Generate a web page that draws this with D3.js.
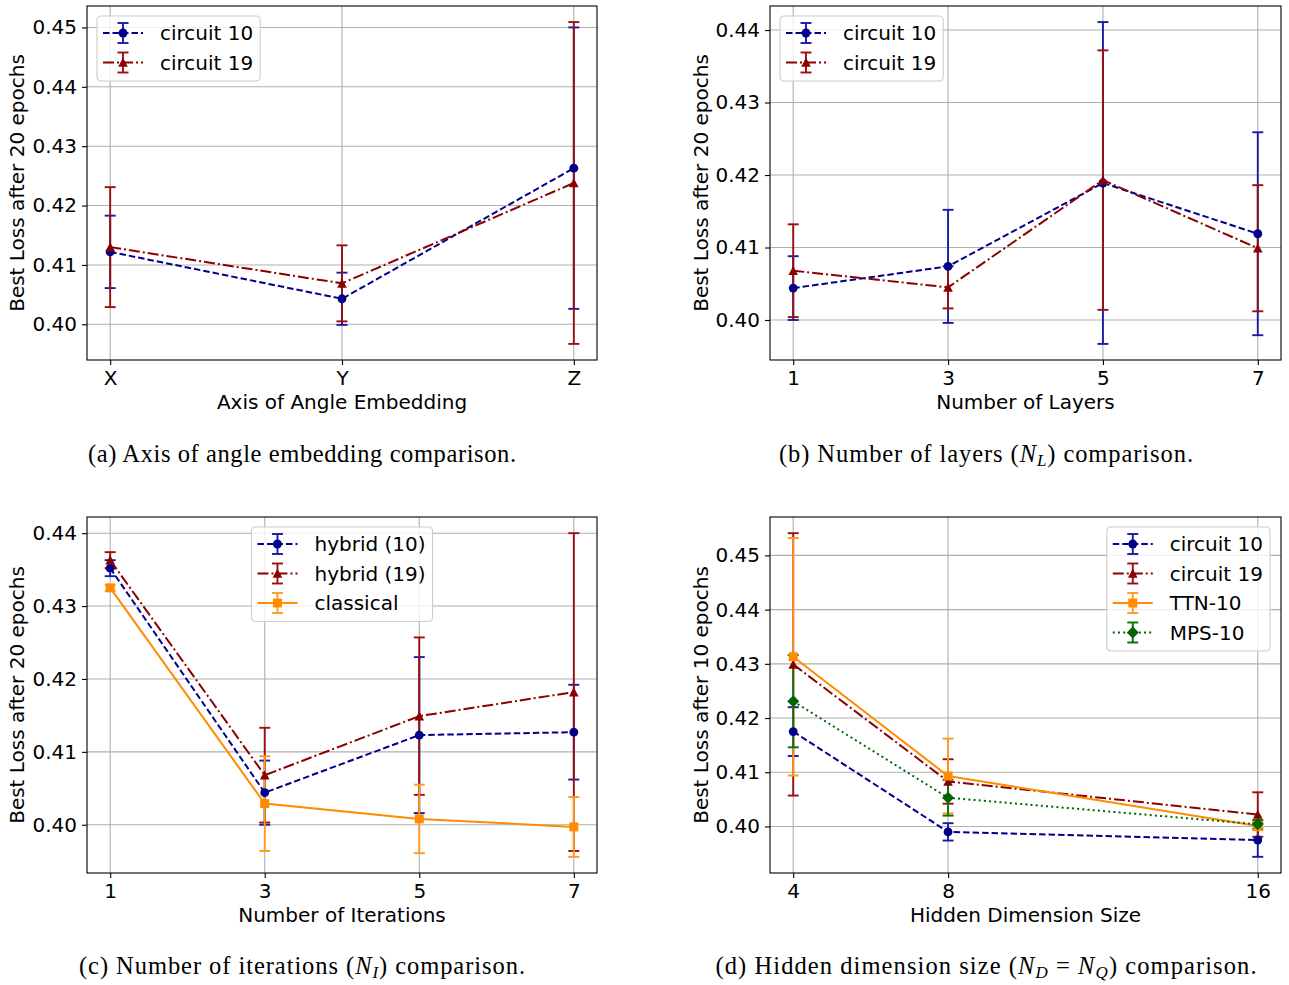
<!DOCTYPE html>
<html>
<head>
<meta charset="utf-8">
<script src="https://cdn.jsdelivr.net/npm/d3@7"></script>
<style>
  body{ margin:0; background:#fff; }
  svg text{ font-family:"DejaVu Sans", sans-serif; fill:#000; }
  svg text.cap{ font-family:"Liberation Serif", serif; }
</style>
</head>
<body>
<svg id="fig" width="1289" height="985"></svg>
<script>
/* ---- valores ---- */
const embedAxes   = ["X", "Y", "Z"];
const embedC10    = [0.4122, 0.4043, 0.4263];
const embedC10Err = [0.0061, 0.0044, 0.0237];
const embedC19    = [0.4130, 0.4069, 0.4238];
const embedC19Err = [0.0101, 0.0064, 0.0271];

const layers      = [1, 3, 5, 7];
const layerC10    = [0.4044, 0.4074, 0.4189, 0.4119];
const layerC10Err = [0.0044, 0.0078, 0.0222, 0.0140];
const layerC19    = [0.4068, 0.4045, 0.4193, 0.4099];
const layerC19Err = [0.0064, 0.0029, 0.0179, 0.0087];

const iters       = [1, 3, 5, 7];
const iterH10     = [0.4352, 0.4044, 0.4123, 0.4127];
const iterH10Err  = [0.0011, 0.0044, 0.0107, 0.0065];
const iterH19     = [0.4363, 0.4068, 0.4149, 0.4182];
const iterH19Err  = [0.0011, 0.0065, 0.0108, 0.0218];
const iterCls     = [0.4325, 0.4029, 0.4008, 0.3997];
const iterClsErr  = [0.0004, 0.0065, 0.0047, 0.0041];

const dims        = [4, 8, 16];
const dimC10      = [0.4175, 0.3990, 0.3975];
const dimC10Err   = [0.0045, 0.0016, 0.0031];
const dimC19      = [0.4299, 0.4083, 0.4022];
const dimC19Err   = [0.0242, 0.0041, 0.0041];
const dimTTN      = [0.4313, 0.4093, 0.4001];
const dimTTNErr   = [0.0219, 0.0069, 0.0008];
const dimMPS      = [0.4231, 0.4053, 0.4004];
const dimMPSErr   = [0.0085, 0.0033, 0.0008];

const ticks045 = [0.40, 0.41, 0.42, 0.43, 0.44, 0.45];
const ticks044 = [0.40, 0.41, 0.42, 0.43, 0.44];

/* estilos de serie (color, trazo, marcador) */
const ST = {
  blue:   { color:"#00008b", bar:"#1a1aa6", dash:"6.5,3",    marker:"circle" },
  red:    { color:"#8b0000", bar:"#9a0f0f", dash:"11,3,2,3", marker:"triangle" },
  orange: { color:"#ff8c00", bar:"#ff9a1f", dash:null,       marker:"square" },
  green:  { color:"#006400", bar:"#0b6e0b", dash:"2,3.2",    marker:"diamond" }
};

const svg = d3.select("#fig");
const FS = 20;

function markerPath(type){
  if(type === "triangle") return "M0,-4.8L4.8,4.3L-4.8,4.3Z";
  if(type === "square")   return "M-4.5,-4.5H4.5V4.5H-4.5Z";
  if(type === "diamond")  return "M0,-6L6,0L0,6L-6,0Z";
  return d3.symbol(d3.symbolCircle, 62)();
}

function drawPanel(p){
  const g = svg.append("g");
  const W = p.right - p.left, H = p.bottom - p.top;

  // eje y: rango de datos +-error con 5% de margen (como matplotlib)
  const lo = d3.min(p.series, s => d3.min(s.y, (v,i) => v - s.err[i]));
  const hi = d3.max(p.series, s => d3.max(s.y, (v,i) => v + s.err[i]));
  const pad = (hi - lo) * 0.05;
  const y = d3.scaleLinear().domain([lo - pad, hi + pad]).range([p.bottom, p.top]);

  let x, xpos;
  if(p.cats){
    x = d3.scalePoint().domain(p.cats).range([p.left, p.right]).padding(0.1);
    xpos = (v, i) => x(p.cats[i]);
  } else {
    const [a, b] = d3.extent(p.xvals);
    const m = (b - a) * 0.05;
    x = d3.scaleLinear().domain([a - m, b + m]).range([p.left, p.right]);
    xpos = (v, i) => x(p.xvals[i]);
  }
  const xTickVals = p.cats ? p.cats : p.xvals;

  // rejilla
  g.append("g").selectAll("line").data(p.yticks).join("line")
    .attr("x1", p.left).attr("x2", p.right)
    .attr("y1", d => y(d)).attr("y2", d => y(d))
    .attr("stroke", "#b0b0b0").attr("stroke-width", 1.1);
  g.append("g").selectAll("line").data(xTickVals).join("line")
    .attr("y1", p.top).attr("y2", p.bottom)
    .attr("x1", d => x(d)).attr("x2", d => x(d))
    .attr("stroke", "#b0b0b0").attr("stroke-width", 1.1);

  // ejes
  const ax = g.append("g").attr("transform", `translate(0,${p.bottom})`)
    .call(d3.axisBottom(x).tickValues(xTickVals).tickSize(5).tickPadding(6).tickFormat(d => d));
  const ay = g.append("g").attr("transform", `translate(${p.left},0)`)
    .call(d3.axisLeft(y).tickValues(p.yticks).tickSize(5).tickPadding(5).tickFormat(d3.format(".2f")));
  [ax, ay].forEach(a => {
    a.select(".domain").remove();
    a.selectAll("text").attr("font-size", FS).attr("font-family", "DejaVu Sans");
    a.selectAll("line").attr("stroke", "#000").attr("stroke-width", 1.1);
  });

  // barras de error (todas debajo de las líneas)
  p.series.forEach(s => {
    const st = ST[s.style];
    const eb = g.append("g").attr("stroke", st.bar).attr("stroke-width", 1.9);
    s.y.forEach((v, i) => {
      const cx = xpos(v, i), t = y(v + s.err[i]), b = y(v - s.err[i]);
      eb.append("line").attr("x1", cx).attr("x2", cx).attr("y1", t).attr("y2", b);
      eb.append("line").attr("x1", cx - 5.5).attr("x2", cx + 5.5).attr("y1", t).attr("y2", t);
      eb.append("line").attr("x1", cx - 5.5).attr("x2", cx + 5.5).attr("y1", b).attr("y2", b);
    });
  });

  // líneas y marcadores
  p.series.forEach(s => {
    const st = ST[s.style];
    const line = d3.line().x((d, i) => xpos(d, i)).y(d => y(d));
    g.append("path").attr("d", line(s.y)).attr("fill", "none")
      .attr("stroke", st.color).attr("stroke-width", 2)
      .attr("stroke-dasharray", st.dash);
    g.append("g").selectAll("path").data(s.y).join("path")
      .attr("transform", (d, i) => `translate(${xpos(d, i)},${y(d)})`)
      .attr("d", markerPath(st.marker)).attr("fill", st.color);
  });

  // marco
  g.append("rect").attr("x", p.left).attr("y", p.top).attr("width", W).attr("height", H)
    .attr("fill", "none").attr("stroke", "#000").attr("stroke-width", 1.1);

  // títulos de eje
  g.append("text").attr("x", (p.left + p.right) / 2).attr("y", p.bottom + 49)
    .attr("text-anchor", "middle").attr("font-size", FS).text(p.xlabel);
  g.append("text").attr("transform", `translate(${p.ylabX},${(p.top + p.bottom) / 2}) rotate(-90)`)
    .attr("text-anchor", "middle").attr("font-size", FS).text(p.ylabel);

  // leyenda
  const lg = g.append("g");
  const box = lg.append("rect").attr("rx", 4).attr("fill", "#fff").attr("fill-opacity", 0.8)
    .attr("stroke", "#cccccc").attr("stroke-width", 1.1);
  let maxW = 0;
  p.series.forEach((s, k) => {
    const st = ST[s.style];
    const ry = 17 + k * 29.5;
    const row = lg.append("g").attr("transform", `translate(0,${ry})`);
    row.append("line").attr("x1", 6).attr("x2", 46).attr("stroke", st.color)
      .attr("stroke-width", 2).attr("stroke-dasharray", st.dash);
    row.append("line").attr("x1", 26).attr("x2", 26).attr("y1", -10).attr("y2", 10)
      .attr("stroke", st.bar).attr("stroke-width", 1.9);
    [-10, 10].forEach(e => row.append("line").attr("x1", 20.5).attr("x2", 31.5)
      .attr("y1", e).attr("y2", e).attr("stroke", st.bar).attr("stroke-width", 1.9));
    row.append("path").attr("transform", "translate(26,0)")
      .attr("d", markerPath(st.marker)).attr("fill", st.color);
    const t = row.append("text").attr("x", 63).attr("dy", "0.35em").attr("font-size", FS).text(s.name);
    maxW = Math.max(maxW, t.node().getComputedTextLength());
  });
  const bw = 63 + maxW + 7, bh = p.series.length * 29.5 + 6;
  box.attr("width", bw).attr("height", bh);
  let lx;
  if(p.legend === "left") lx = p.left + 10;
  else if(p.legend === "center") lx = (p.left + p.right) / 2 - bw / 2;
  else lx = p.right - 11 - bw;
  lg.attr("transform", `translate(${lx},${p.top + 10})`);

  // pie de figura (ancho ajustado al del original)
  const cap = svg.append("text").attr("class", "cap").attr("x", p.capX).attr("y", p.capY)
    .attr("text-anchor", "middle").attr("font-size", 24.5)
    .attr("textLength", p.capW).attr("lengthAdjust", "spacing");
  p.caption.forEach(part => {
    const ts = cap.append("tspan").text(part.t);
    if(part.i) ts.attr("font-style", "italic");
    if(part.sub) ts.attr("font-size", 17).attr("dy", 4);
    if(part.up) ts.attr("dy", -4);
  });
}

drawPanel({
  left:87, right:597, top:6, bottom:360, ylabX:24, capX:302, capY:462, capW:428,
  cats: embedAxes, yticks: ticks045, legend:"left",
  xlabel:"Axis of Angle Embedding", ylabel:"Best Loss after 20 epochs",
  series:[
    { name:"circuit 10", style:"blue", y:embedC10, err:embedC10Err },
    { name:"circuit 19", style:"red",  y:embedC19, err:embedC19Err }
  ],
  caption:[{t:"(a) Axis of angle embedding comparison."}]
});

drawPanel({
  left:770, right:1281, top:6, bottom:360, ylabX:708, capX:986, capY:462, capW:414,
  xvals: layers, yticks: ticks044, legend:"left",
  xlabel:"Number of Layers", ylabel:"Best Loss after 20 epochs",
  series:[
    { name:"circuit 10", style:"blue", y:layerC10, err:layerC10Err },
    { name:"circuit 19", style:"red",  y:layerC19, err:layerC19Err }
  ],
  caption:[{t:"(b) Number of layers ("}, {t:"N", i:true}, {t:"L", i:true, sub:true},
           {t:") comparison.", up:true}]
});

drawPanel({
  left:87, right:597, top:517, bottom:873, ylabX:24, capX:302, capY:974, capW:446,
  xvals: iters, yticks: ticks044, legend:"center",
  xlabel:"Number of Iterations", ylabel:"Best Loss after 20 epochs",
  series:[
    { name:"hybrid (10)", style:"blue",   y:iterH10, err:iterH10Err },
    { name:"hybrid (19)", style:"red",    y:iterH19, err:iterH19Err },
    { name:"classical",   style:"orange", y:iterCls, err:iterClsErr }
  ],
  caption:[{t:"(c) Number of iterations ("}, {t:"N", i:true}, {t:"I", i:true, sub:true},
           {t:") comparison.", up:true}]
});

drawPanel({
  left:770, right:1281, top:517, bottom:873, ylabX:708, capX:986, capY:974, capW:541,
  xvals: dims, yticks: ticks045, legend:"right",
  xlabel:"Hidden Dimension Size", ylabel:"Best Loss after 10 epochs",
  series:[
    { name:"circuit 10", style:"blue",   y:dimC10, err:dimC10Err },
    { name:"circuit 19", style:"red",    y:dimC19, err:dimC19Err },
    { name:"TTN-10",     style:"orange", y:dimTTN, err:dimTTNErr },
    { name:"MPS-10",     style:"green",  y:dimMPS, err:dimMPSErr }
  ],
  caption:[{t:"(d) Hidden dimension size ("}, {t:"N", i:true}, {t:"D", i:true, sub:true},
           {t:" = ", up:true}, {t:"N", i:true}, {t:"Q", i:true, sub:true},
           {t:") comparison.", up:true}]
});
</script>
</body>
</html>
